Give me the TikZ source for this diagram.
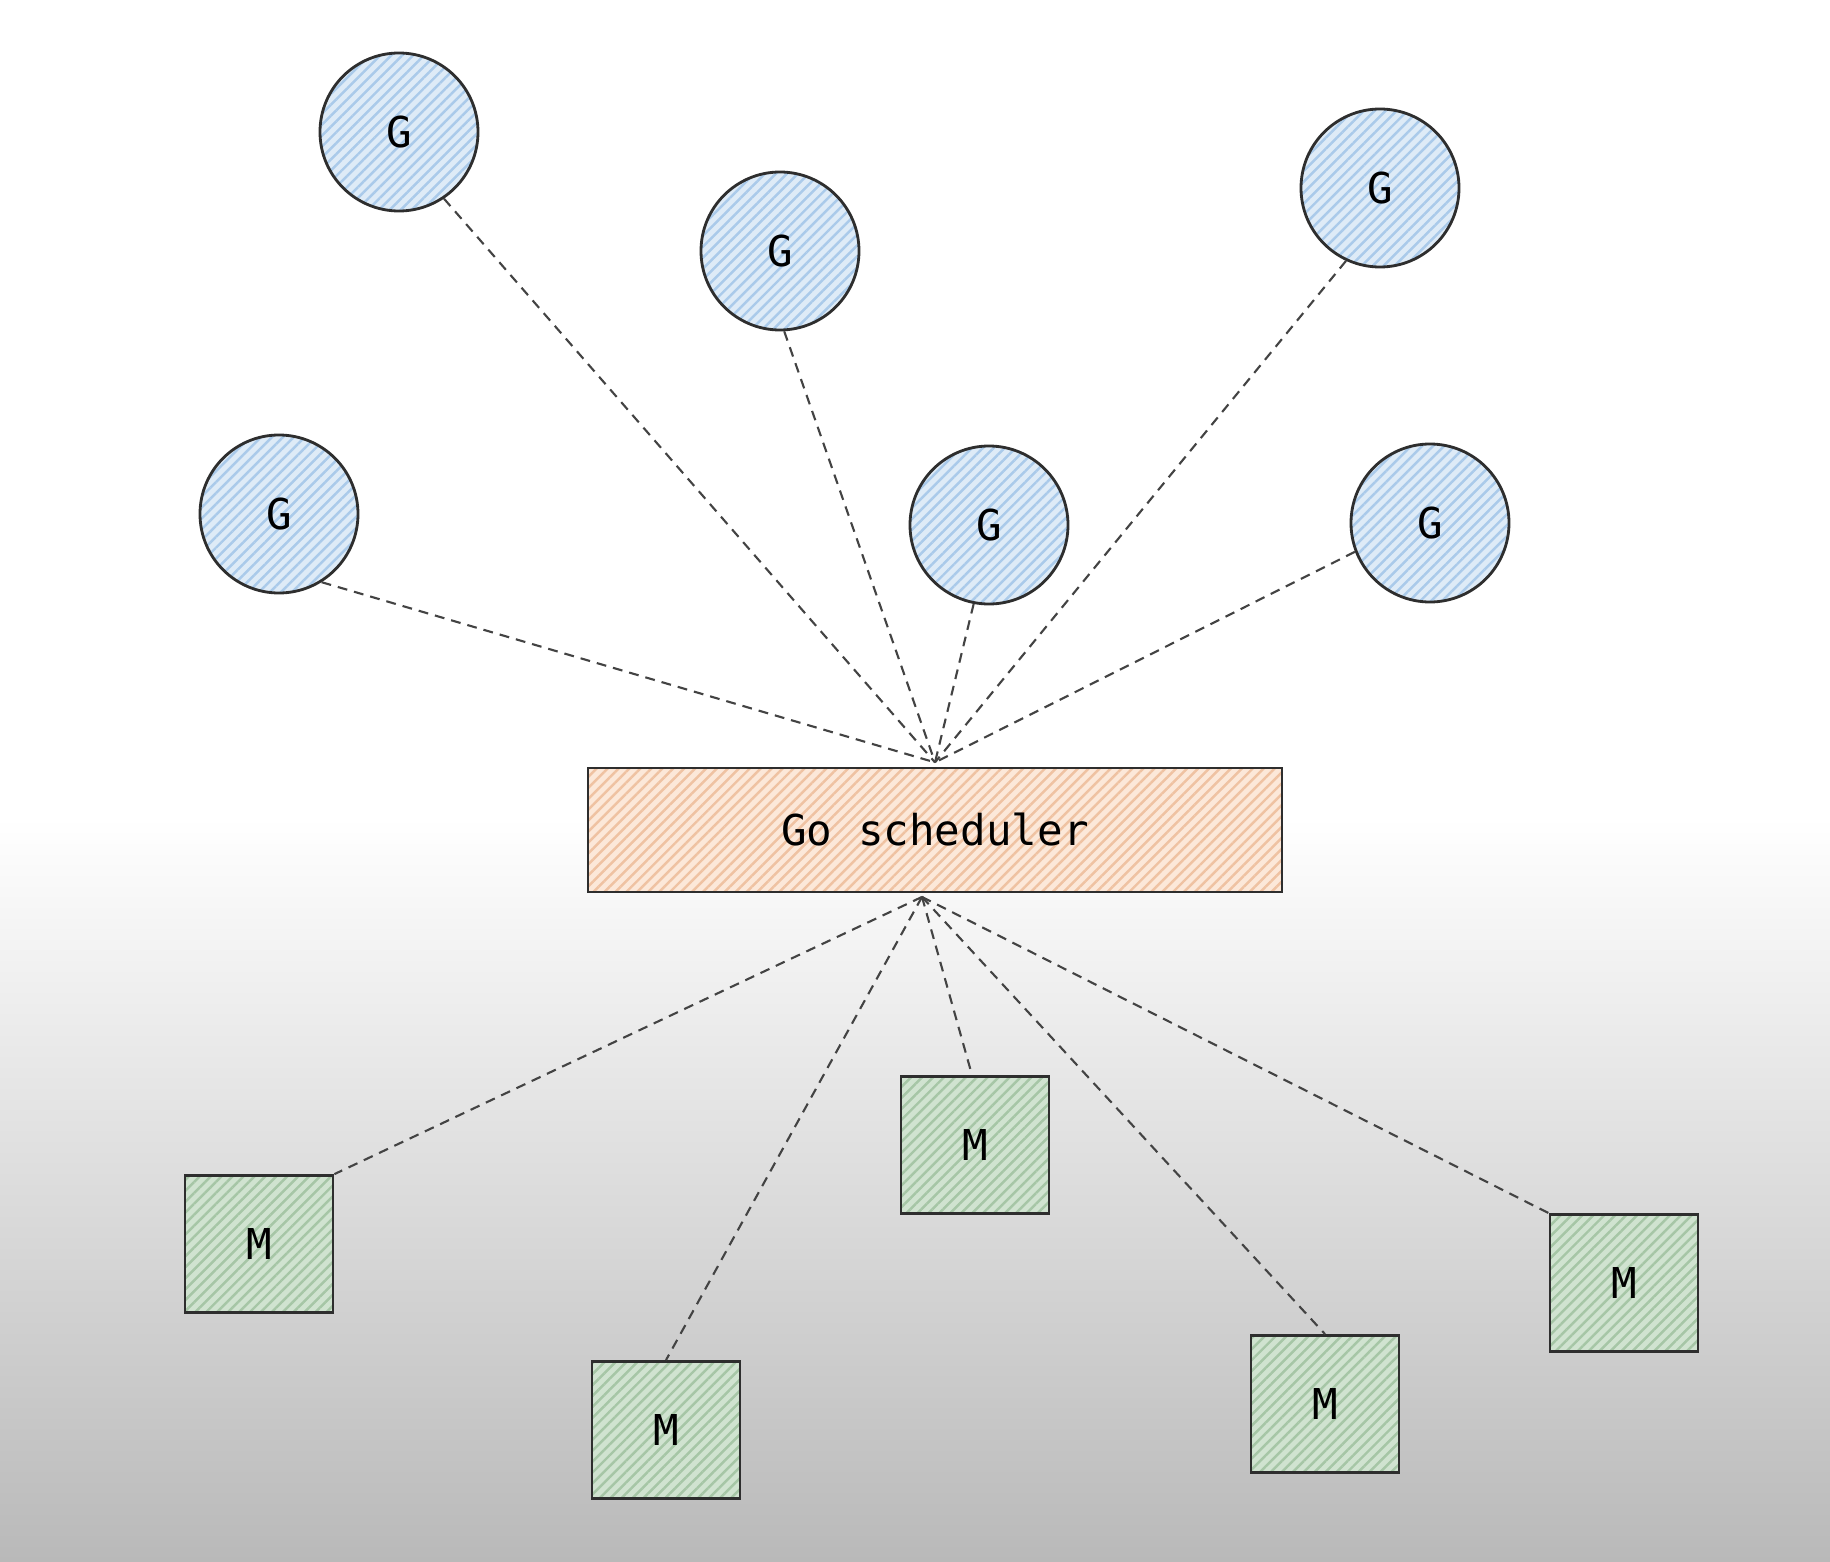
\documentclass[tikz,border=0pt]{standalone}
\usepackage{fontspec}
\setmonofont{DejaVu Sans Mono}
\usepackage{tikz}
\usetikzlibrary{patterns.meta}

\definecolor{gfill}{HTML}{DEEBF7}
\definecolor{gline}{HTML}{AACAEA}
\definecolor{sfill}{HTML}{FCE8D9}
\definecolor{sline}{HTML}{EFC2A2}
\definecolor{mfill}{HTML}{D0E3D0}
\definecolor{mline}{HTML}{A6C6A6}
\definecolor{edge}{HTML}{2E2E2E}
\definecolor{bggray}{HTML}{B9B9B9}

\begin{document}
\begin{tikzpicture}[
    font=\ttfamily\fontsize{12.1}{15}\selectfont,
    hatch/.style={postaction={pattern={Lines[angle=45,distance=2.2pt,line width=0.7pt]},pattern color=#1},
                  postaction={draw=edge, line width=0.8pt}},
    goroutine/.style={circle, line width=0.8pt, fill=gfill, hatch=gline, minimum size=1.58cm, text=black},
    thread/.style={rectangle, line width=0.8pt, fill=mfill, hatch=mline, minimum width=1.48cm, minimum height=1.37cm, text=black},
    sched/.style={rectangle, line width=0.8pt, fill=sfill, hatch=sline, minimum width=6.94cm, minimum height=1.24cm, text=black},
    link/.style={draw=edge!90, line width=0.6pt, dash pattern=on 2.8pt off 2pt}]
  \fill[white] (0, 0) rectangle (18.30, -15.62);
  \shade[top color=white, bottom color=bggray] (0, -8.17) rectangle (18.30, -15.62);
  \useasboundingbox (0, 0) rectangle (18.30, -15.62);

  \node[goroutine] (g1) at (3.99, -1.32) {G};
  \node[goroutine] (g2) at (7.80, -2.51) {G};
  \node[goroutine] (g3) at (13.80, -1.88) {G};
  \node[goroutine] (g4) at (2.79, -5.14) {G};
  \node[goroutine] (g5) at (9.89, -5.25) {G};
  \node[goroutine] (g6) at (14.30, -5.23) {G};

  \node[sched] (gosched) at (9.35, -8.30) {Go scheduler};
  \coordinate (in) at ([yshift=1.2pt]gosched.north);
  \coordinate (out) at ([xshift=-1.3mm, yshift=-1pt]gosched.south);

  \node[thread] (m1) at (2.59, -12.44) {M};
  \node[thread] (m2) at (6.66, -14.30) {M};
  \node[thread] (m3) at (9.75, -11.45) {M};
  \node[thread] (m4) at (13.25, -14.04) {M};
  \node[thread] (m5) at (16.24, -12.83) {M};

  \foreach \g/\a in {g1/-56, g2/-87, g3/-115, g4/-58, g5/-101, g6/-159}
    \draw[link] (\g.\a) -- (in);
  \draw[link] (out) -- (m1.north east);
  \draw[link] (out) -- (m2.north);
  \draw[link] (out) -- ([xshift=-0.3mm]m3.north);
  \draw[link] (out) -- (m4.north);
  \draw[link] (out) -- (m5.north west);
\end{tikzpicture}
\end{document}
